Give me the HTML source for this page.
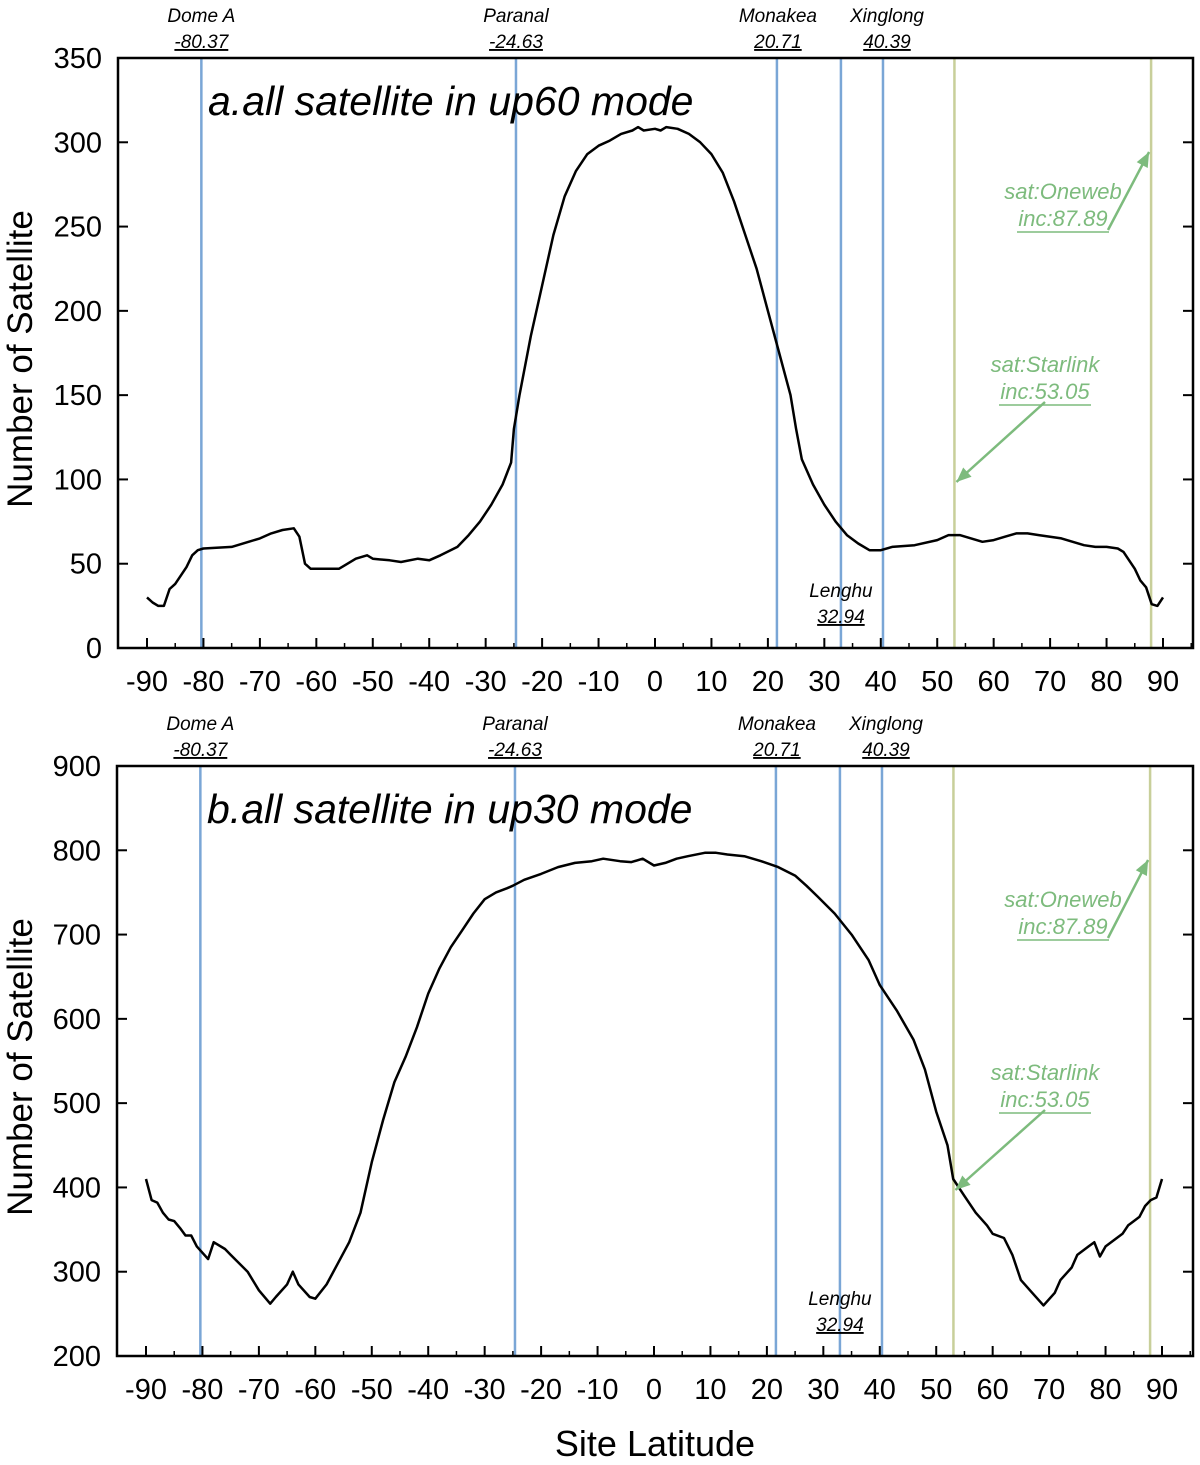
<!DOCTYPE html>
<html><head><meta charset="utf-8">
<style>
html,body{margin:0;padding:0;background:#fff;}
svg{display:block;font-family:"Liberation Sans",Arial,sans-serif;}
</style></head>
<body>
<svg id="chart" width="1200" height="1465" viewBox="0 0 1200 1465" xmlns="http://www.w3.org/2000/svg"></svg>
<script>
const xTicks=[-90,-80,-70,-60,-50,-40,-30,-20,-10,0,10,20,30,40,50,60,70,80,90];
const yTicksA=[0,50,100,150,200,250,300,350];
const yTicksB=[200,300,400,500,600,700,800,900];
const siteNames=["Dome A","Paranal","Monakea","Lenghu","Xinglong"];
const siteLabels=["-80.37","-24.63","20.71","32.94","40.39"];
const siteLat=[-80.37,-24.63,21.6,32.94,40.39];
const satNames=["sat:Starlink","sat:Oneweb"];
const satInc=[53.05,87.89];
const latA=[-90,-89,-88,-87,-86,-85,-83,-82,-81,-80,-75,-72,-70,-68,-66,-64,-63,-62,-61,-58,-56,-55,-53,-51,-50,-47,-45,-42,-40,-38,-35,-33,-31,-29,-27,-25.5,-25,-24,-22,-20,-18,-16,-14,-12,-10,-8,-6,-4,-3,-2,0,1,2,4,6,8,10,12,14,16,18,20,22,24,25,26,28,30,32,34,36,38,40,42,46,50,52,54,56,58,60,62,64,66,68,70,72,74,76,78,80,82,83,84,85,86,87,88,89,90];
const valA=[30,27,25,25,35,38,48,55,58,59,60,63,65,68,70,71,66,50,47,47,47,49,53,55,53,52,51,53,52,55,60,67,75,85,97,110,130,150,185,215,245,268,283,293,298,301,305,307,309,307,308,307,309,308,305,300,293,282,265,245,225,200,175,150,130,112,97,85,75,67,62,58,58,60,61,64,67,67,65,63,64,66,68,68,67,66,65,63,61,60,60,59,57,52,47,40,36,26,25,30];
const latB=[-90,-89,-88,-87,-86,-85,-84,-83,-82,-81,-79,-78,-76,-75,-72,-70,-68,-67,-65,-64,-63,-61,-60,-58,-56,-54,-52,-50,-48,-46,-44,-42,-40,-38,-36,-34,-32,-30,-28,-26,-25,-23,-20,-17,-14,-11,-9,-6,-4,-2,0,2,4,6,9,11,13,16,19,22,25,27,29,32,35,38,40,43,46,48,50,52,53,55,57,59,60,62,63.5,65,67,69,71,72,74,75,77,78,79,80,82,83,84,85,86,87,88,89,90];
const valB=[410,385,382,370,362,360,352,343,343,330,315,335,327,320,300,278,262,270,285,300,285,270,268,285,310,335,370,430,480,525,555,590,630,660,685,705,725,742,750,755,758,765,772,780,785,787,790,787,786,790,782,785,790,793,797,797,795,793,787,780,770,758,745,725,700,670,640,610,575,540,490,450,410,390,370,355,345,340,320,290,275,260,275,290,305,320,330,335,318,330,340,345,355,360,365,378,385,388,410];

const svg=document.getElementById('chart');
const NS='http://www.w3.org/2000/svg';
function mk(tag,attrs,parent,text){const e=document.createElementNS(NS,tag);for(const k in attrs)e.setAttribute(k,attrs[k]);if(text!==undefined)e.textContent=text;(parent||svg).appendChild(e);return e;}

function panel(p){
  const g=mk('g',{});
  
  
  const X=v=>p.x0+(v+90)*(p.x1-p.x0)/180;
  const Y=v=>p.yb+(v-p.ymin)*(p.yt-p.yb)/(p.ymax-p.ymin);
  siteLat.forEach((s,i)=>{const l=mk('line',{x1:X(s),x2:X(s),y1:p.top,y2:p.bot,stroke:'#7aa6d6','stroke-width':2.5},g);
    
    });
  satInc.forEach((s,i)=>{const l=mk('line',{x1:X(s),x2:X(s),y1:p.top,y2:p.bot,stroke:'#c8cf9a','stroke-width':2.5},g);
    
    });
  const d=p.lat.map((l,i)=>(i?'L':'M')+X(l).toFixed(1)+','+Y(p.val[i]).toFixed(1)).join('');
  const c=mk('path',{d:d,fill:'none',stroke:'#000','stroke-width':2.5,'stroke-linejoin':'round'},g);
  
  
  const f=mk('rect',{x:p.left,y:p.top,width:p.right-p.left,height:p.bot-p.top,fill:'none',stroke:'#000','stroke-width':2.5},g);
  
  
  xTicks.forEach(t=>{mk('line',{x1:X(t),x2:X(t),y1:p.bot,y2:p.bot-10,stroke:'#000','stroke-width':2},g);
    mk('line',{x1:X(t+5),x2:X(t+5),y1:p.bot,y2:p.bot-5,stroke:'#000','stroke-width':1.5},g);
    const tx=mk('text',{x:X(t),y:p.bot+43,'font-size':29,'text-anchor':'middle'},g,String(t));
    
    });
  p.yt_.forEach(t=>{mk('line',{x1:p.left,x2:p.left+10,y1:Y(t),y2:Y(t),stroke:'#000','stroke-width':2},g);
    mk('line',{x1:p.right,x2:p.right-10,y1:Y(t),y2:Y(t),stroke:'#000','stroke-width':2},g);
    const tx=mk('text',{x:p.left-16,y:Y(t)+10,'font-size':29,'text-anchor':'end'},g,String(t));
    
    });
  const yt=mk('text',{x:0,y:0,'font-size':35,'text-anchor':'middle',transform:`translate(32,${(p.top+p.bot)/2+6}) rotate(-90)`},g,'Number of Satellite');
  
  
  const ti=mk('text',{x:p.left+90,y:p.top+57,'font-size':41,'font-style':'italic'},g,p.title);
  
  
  const lx=[X(siteLat[0]),X(siteLat[1]),X(siteLat[2])+1,X(siteLat[3]),X(siteLat[4])+4];
  siteNames.forEach((n,i)=>{
    const top=i===3?p.lenY:p.labY;
    const a=mk('text',{x:lx[i],y:top,'font-size':19,'font-style':'italic','text-anchor':'middle'},g,n);
    
    
    const b=mk('text',{x:lx[i],y:top+26,'font-size':19,'font-style':'italic','text-anchor':'middle','text-decoration':'underline'},g,siteLabels[i]);
    
    
  });
  const green='#7dbb7d';
  const ann=[{cx:1045,ty:p.top+307,tipx:X(satInc[0])+2,tipy:p.top+424,fromx:1045,fromy:p.top+344},
             {cx:1063,ty:p.top+134,tipx:X(satInc[1])-2,tipy:p.top+94,fromx:1108,fromy:p.top+172}];
  ann.forEach((a,i)=>{
    const t1=mk('text',{x:a.cx,y:a.ty+7,'font-size':22,'font-style':'italic','text-anchor':'middle',fill:green},g,satNames[i]);
    
    
    const t2=mk('text',{x:a.cx,y:a.ty+34,'font-size':22,'font-style':'italic','text-anchor':'middle',fill:green},g,'inc:'+satInc[i].toFixed(2));
    
    
    mk('line',{x1:a.cx-46,x2:a.cx+46,y1:a.ty+40,y2:a.ty+40,stroke:green,'stroke-width':1.5},g);
    const ang=Math.atan2(a.tipy-a.fromy,a.tipx-a.fromx);
    mk('line',{x1:a.fromx,y1:a.fromy,x2:a.tipx,y2:a.tipy,stroke:green,'stroke-width':2.5},g);
    const h=16,s=0.4;
    mk('polygon',{points:`${a.tipx},${a.tipy} ${a.tipx-h*Math.cos(ang-s)},${a.tipy-h*Math.sin(ang-s)} ${a.tipx-h*Math.cos(ang+s)},${a.tipy-h*Math.sin(ang+s)}`,fill:green},g);
  });
}
panel({id:'panel-a',left:118,right:1193,top:58,bot:648,x0:147,x1:1163,yb:648,yt:58,ymin:0,ymax:350,yt_:yTicksA,lat:latA,val:valA,title:'a.all satellite in up60 mode',labY:22,lenY:597});
panel({id:'panel-b',left:117,right:1193,top:766,bot:1356,x0:146,x1:1162,yb:1356,yt:766,ymin:200,ymax:900,yt_:yTicksB,lat:latB,val:valB,title:'b.all satellite in up30 mode',labY:730,lenY:1305});
const xt=mk('text',{x:655,y:1456,'font-size':36,'text-anchor':'middle'},svg,'Site Latitude');


</script>
</body></html>
